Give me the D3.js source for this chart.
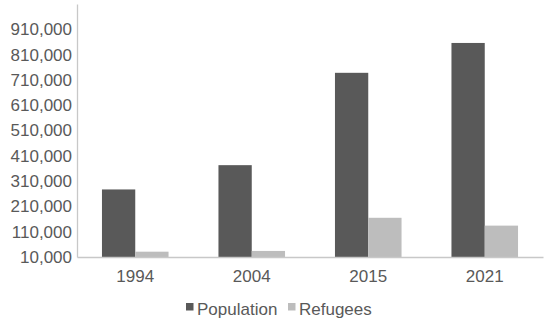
<!DOCTYPE html>
<html>
<head>
<meta charset="utf-8">
<script src="https://cdn.jsdelivr.net/npm/d3@7"></script>
<style>
  body { margin: 0; background: #fff; }
  text { font-family: "Liberation Sans", Arial, sans-serif; fill: #595959; }
</style>
</head>
<body>
<div id="chart"></div>
<script>
const years = ['1994', '2004', '2015', '2021']
const population = [277000, 373000, 738000, 856000]
const refugees = [31000, 34000, 165000, 134000]
const seriesNames = ['Population', 'Refugees']
const yTicks = [10000, 110000, 210000, 310000, 410000, 510000, 610000, 710000, 810000, 910000]

const w_full = 550
const h_full = 323
const margin = {top: 4, right: 7, bottom: 66, left: 77}
const width = w_full - margin.left - margin.right
const height = h_full - margin.top - margin.bottom
const colors = ['#595959', '#bdbdbd']

const svg = d3.select('#chart')
    .append('svg')
    .attr('width', w_full)
    .attr('height', h_full)

const g = svg.append('g')
    .attr('transform', `translate(${margin.left},${margin.top})`)

const x = d3.scaleBand()
    .domain(years)
    .range([0, width])

const xs = d3.scaleBand()
    .domain(seriesNames)
    .range([0, x.bandwidth()])
    .paddingInner(0)
    .paddingOuter(0.75)

const y = d3.scaleLinear()
    .domain([10000, 1010000])
    .range([height, 0])

const data = years.map((yr, i) => ({year: yr, values: [population[i], refugees[i]]}))

// bars
g.selectAll('.group')
    .data(data)
    .join('g')
    .attr('class', 'group')
    .attr('transform', d => `translate(${x(d.year)},0)`)
    .selectAll('rect')
    .data(d => d.values.map((v, j) => ({name: seriesNames[j], value: v, idx: j})))
    .join('rect')
    .attr('x', d => xs(d.name))
    .attr('width', xs.bandwidth())
    .attr('y', d => y(d.value))
    .attr('height', d => y(10000) - y(d.value))
    .attr('fill', d => colors[d.idx])

// y axis
const yAxis = g.append('g')
    .call(d3.axisLeft(y).tickValues(yTicks).tickSize(0).tickPadding(5).tickFormat(d3.format(',')))
yAxis.select('.domain').attr('stroke', '#c8c8c8').attr('stroke-width', 1.3)
yAxis.selectAll('text').style('font-size', '17px').attr('fill', '#595959')

// x axis
const xAxis = g.append('g')
    .attr('transform', `translate(0,${height})`)
    .call(d3.axisBottom(x).tickSize(0).tickPadding(13))
xAxis.select('.domain').attr('stroke', '#c8c8c8').attr('stroke-width', 1.3)
xAxis.selectAll('text').style('font-size', '17px').attr('fill', '#595959')

// legend
const legendItems = [{name: 'Population', x: 186}, {name: 'Refugees', x: 288}]
const legend = svg.append('g').attr('class', 'legend')
legend.selectAll('rect')
    .data(legendItems)
    .join('rect')
    .attr('x', d => d.x)
    .attr('y', 303)
    .attr('width', 7.5)
    .attr('height', 7.5)
    .attr('fill', (d, i) => colors[i])
legend.selectAll('text')
    .data(legendItems)
    .join('text')
    .attr('x', d => d.x + 11)
    .attr('y', 315)
    .style('font-size', '17px')
    .text(d => d.name)
</script>
</body>
</html>
